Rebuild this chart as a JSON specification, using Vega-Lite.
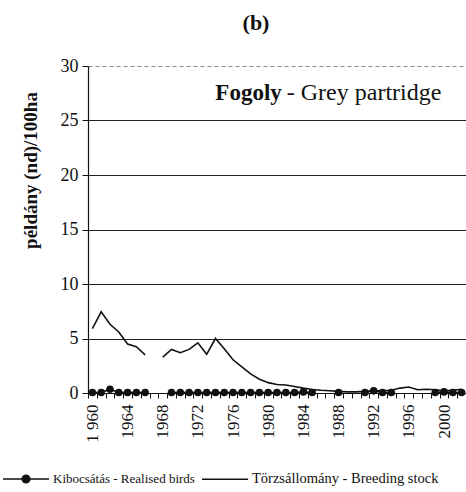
{
  "$schema": "https://vega.github.io/schema/vega-lite/v6.json",
  "autosize": {"type": "none"},
  "padding": {"left": 88, "top": 66, "right": 0, "bottom": 99},
  "width": 378,
  "height": 327,
  "background": "white",
  "title": {"text": "(b)", "font": "Liberation Serif, Times New Roman, serif", "fontSize": 22, "fontWeight": "bold", "color": "#111", "anchor": "middle", "dx": -21, "offset": 22},
  "config": {
    "view": {"stroke": null},
    "font": "Liberation Serif, Times New Roman, serif",
    "axis": {"labelFont": "Liberation Serif, Times New Roman, serif", "titleFont": "Liberation Serif, Times New Roman, serif", "labelColor": "#111", "domainColor": "#111", "tickColor": "#111"},
    "legend": {"labelFont": "Liberation Serif, Times New Roman, serif"}
  },
  "datasets": {
    "series": [
      {"year": 1960, "series": "Törzsállomány - Breeding stock", "value": 5.9},
      {"year": 1961, "series": "Törzsállomány - Breeding stock", "value": 7.45},
      {"year": 1962, "series": "Törzsállomány - Breeding stock", "value": 6.3},
      {"year": 1963, "series": "Törzsállomány - Breeding stock", "value": 5.6},
      {"year": 1964, "series": "Törzsállomány - Breeding stock", "value": 4.5},
      {"year": 1965, "series": "Törzsállomány - Breeding stock", "value": 4.25},
      {"year": 1966, "series": "Törzsállomány - Breeding stock", "value": 3.5},
      {"year": 1967, "series": "Törzsállomány - Breeding stock", "value": null},
      {"year": 1968, "series": "Törzsállomány - Breeding stock", "value": 3.3},
      {"year": 1969, "series": "Törzsállomány - Breeding stock", "value": 4.0},
      {"year": 1970, "series": "Törzsállomány - Breeding stock", "value": 3.7},
      {"year": 1971, "series": "Törzsállomány - Breeding stock", "value": 4.0},
      {"year": 1972, "series": "Törzsállomány - Breeding stock", "value": 4.6},
      {"year": 1973, "series": "Törzsállomány - Breeding stock", "value": 3.55},
      {"year": 1974, "series": "Törzsállomány - Breeding stock", "value": 5.0},
      {"year": 1975, "series": "Törzsállomány - Breeding stock", "value": 4.05},
      {"year": 1976, "series": "Törzsállomány - Breeding stock", "value": 3.05},
      {"year": 1977, "series": "Törzsállomány - Breeding stock", "value": 2.4},
      {"year": 1978, "series": "Törzsállomány - Breeding stock", "value": 1.75},
      {"year": 1979, "series": "Törzsállomány - Breeding stock", "value": 1.27},
      {"year": 1980, "series": "Törzsállomány - Breeding stock", "value": 0.95},
      {"year": 1981, "series": "Törzsállomány - Breeding stock", "value": 0.78},
      {"year": 1982, "series": "Törzsállomány - Breeding stock", "value": 0.73},
      {"year": 1983, "series": "Törzsállomány - Breeding stock", "value": 0.6},
      {"year": 1984, "series": "Törzsállomány - Breeding stock", "value": 0.45},
      {"year": 1985, "series": "Törzsállomány - Breeding stock", "value": 0.32},
      {"year": 1986, "series": "Törzsállomány - Breeding stock", "value": 0.25},
      {"year": 1987, "series": "Törzsállomány - Breeding stock", "value": 0.2},
      {"year": 1988, "series": "Törzsállomány - Breeding stock", "value": 0.15},
      {"year": 1989, "series": "Törzsállomány - Breeding stock", "value": 0.1},
      {"year": 1990, "series": "Törzsállomány - Breeding stock", "value": 0.1},
      {"year": 1991, "series": "Törzsállomány - Breeding stock", "value": 0.15},
      {"year": 1992, "series": "Törzsállomány - Breeding stock", "value": 0.2},
      {"year": 1993, "series": "Törzsállomány - Breeding stock", "value": 0.2},
      {"year": 1994, "series": "Törzsállomány - Breeding stock", "value": 0.25},
      {"year": 1995, "series": "Törzsállomány - Breeding stock", "value": 0.45},
      {"year": 1996, "series": "Törzsállomány - Breeding stock", "value": 0.55},
      {"year": 1997, "series": "Törzsállomány - Breeding stock", "value": 0.3},
      {"year": 1998, "series": "Törzsállomány - Breeding stock", "value": 0.35},
      {"year": 1999, "series": "Törzsállomány - Breeding stock", "value": 0.3},
      {"year": 2000, "series": "Törzsállomány - Breeding stock", "value": 0.2},
      {"year": 2001, "series": "Törzsállomány - Breeding stock", "value": 0.25},
      {"year": 2002, "series": "Törzsállomány - Breeding stock", "value": 0.35},
      {"year": 1960, "series": "Kibocsátás - Realised birds", "value": 0.05},
      {"year": 1961, "series": "Kibocsátás - Realised birds", "value": 0.05},
      {"year": 1962, "series": "Kibocsátás - Realised birds", "value": 0.35},
      {"year": 1963, "series": "Kibocsátás - Realised birds", "value": 0.05},
      {"year": 1964, "series": "Kibocsátás - Realised birds", "value": 0.05},
      {"year": 1965, "series": "Kibocsátás - Realised birds", "value": 0.05},
      {"year": 1966, "series": "Kibocsátás - Realised birds", "value": 0.05},
      {"year": 1967, "series": "Kibocsátás - Realised birds", "value": null},
      {"year": 1968, "series": "Kibocsátás - Realised birds", "value": null},
      {"year": 1969, "series": "Kibocsátás - Realised birds", "value": 0.05},
      {"year": 1970, "series": "Kibocsátás - Realised birds", "value": 0.05},
      {"year": 1971, "series": "Kibocsátás - Realised birds", "value": 0.05},
      {"year": 1972, "series": "Kibocsátás - Realised birds", "value": 0.05},
      {"year": 1973, "series": "Kibocsátás - Realised birds", "value": 0.05},
      {"year": 1974, "series": "Kibocsátás - Realised birds", "value": 0.05},
      {"year": 1975, "series": "Kibocsátás - Realised birds", "value": 0.05},
      {"year": 1976, "series": "Kibocsátás - Realised birds", "value": 0.05},
      {"year": 1977, "series": "Kibocsátás - Realised birds", "value": 0.05},
      {"year": 1978, "series": "Kibocsátás - Realised birds", "value": 0.05},
      {"year": 1979, "series": "Kibocsátás - Realised birds", "value": 0.05},
      {"year": 1980, "series": "Kibocsátás - Realised birds", "value": 0.05},
      {"year": 1981, "series": "Kibocsátás - Realised birds", "value": 0.05},
      {"year": 1982, "series": "Kibocsátás - Realised birds", "value": 0.05},
      {"year": 1983, "series": "Kibocsátás - Realised birds", "value": 0.05},
      {"year": 1984, "series": "Kibocsátás - Realised birds", "value": 0.1},
      {"year": 1985, "series": "Kibocsátás - Realised birds", "value": 0.05},
      {"year": 1986, "series": "Kibocsátás - Realised birds", "value": null},
      {"year": 1987, "series": "Kibocsátás - Realised birds", "value": null},
      {"year": 1988, "series": "Kibocsátás - Realised birds", "value": 0.05},
      {"year": 1989, "series": "Kibocsátás - Realised birds", "value": null},
      {"year": 1990, "series": "Kibocsátás - Realised birds", "value": null},
      {"year": 1991, "series": "Kibocsátás - Realised birds", "value": 0.05},
      {"year": 1992, "series": "Kibocsátás - Realised birds", "value": 0.2},
      {"year": 1993, "series": "Kibocsátás - Realised birds", "value": 0.05},
      {"year": 1994, "series": "Kibocsátás - Realised birds", "value": 0.05},
      {"year": 1995, "series": "Kibocsátás - Realised birds", "value": null},
      {"year": 1996, "series": "Kibocsátás - Realised birds", "value": null},
      {"year": 1997, "series": "Kibocsátás - Realised birds", "value": null},
      {"year": 1998, "series": "Kibocsátás - Realised birds", "value": null},
      {"year": 1999, "series": "Kibocsátás - Realised birds", "value": 0.05},
      {"year": 2000, "series": "Kibocsátás - Realised birds", "value": 0.1},
      {"year": 2001, "series": "Kibocsátás - Realised birds", "value": 0.05},
      {"year": 2002, "series": "Kibocsátás - Realised birds", "value": 0.05}
    ],
    "label1": [{"year": 1982, "value": 27.5, "text": "Fogoly"}],
    "label2": [{"year": 1982, "value": 27.5, "text": "- Grey partridge"}]
  },
  "encoding": {
    "x": {
      "field": "year", "type": "ordinal", "bandPosition": 0.5,
      "scale": {"type": "band", "paddingInner": 0, "paddingOuter": 0},
      "axis": {
        "title": null, "labelAngle": -90, "labelFontSize": 17, "labelOverlap": false,
        "labelExpr": "(datum.value - 1960) % 4 == 0 ? (datum.value == 1960 ? '1 960' : datum.label) : ''",
        "tickBand": "extent", "tickSize": 5, "labelPadding": 6, "domainWidth": 1.2, "grid": false
      }
    },
    "y": {
      "field": "value", "type": "quantitative",
      "scale": {"domain": [0, 30], "nice": false, "zero": true},
      "axis": {
        "values": [0, 5, 10, 15, 20, 25, 30], "title": "példány (nd)/100ha",
        "titleFontSize": 19, "titleFontWeight": "bold", "titleColor": "#111",
        "titleX": -58, "titleY": 104, "titleAngle": -90, "titleAlign": "center", "titleBaseline": "middle",
        "labelFontSize": 18, "labelPadding": 4, "tickSize": 6, "domainWidth": 1.2,
        "grid": true, "gridColor": {"condition": {"test": "datum.value == 30", "value": "#888"}, "value": "#222"},
        "gridDash": {"condition": {"test": "datum.value == 30", "value": [4, 3]}, "value": []},
        "gridWidth": 1.1
      }
    }
  },
  "layer": [
    {
      "data": {"name": "series"},
      "mark": {"type": "line", "strokeWidth": 1.6, "invalid": "break-paths-filter-domains"},
      "encoding": {
        "detail": {"field": "series"},
        "color": {
          "field": "series", "type": "nominal",
          "scale": {"domain": ["Kibocsátás - Realised birds", "Törzsállomány - Breeding stock"], "range": ["#111", "#111"]},
          "legend": {
            "title": null, "orient": "none", "legendX": -86, "legendY": 389, "direction": "horizontal",
            "labelFont": "Liberation Serif, Times New Roman, serif", "labelFontSize": 13, "labelColor": "#111",
            "symbolSize": 2116, "labelOffset": 3, "columnPadding": 4, "symbolStrokeWidth": 1.3, "labelLimit": 300,
            "encode": {
              "labels": {
                "update": {
                  "fontSize": {"signal": "datum.value === 'Kibocsátás - Realised birds' ? 13 : 14.5"}
                }
              },
              "symbols": {
                "update": {
                  "shape": {"signal": "datum.value === 'Kibocsátás - Realised birds' ? 'M-1,0H1M0.17,0A0.17,0.17,0,1,1,-0.17,0A0.17,0.17,0,1,1,0.17,0Z' : 'M-1,0H1'"},
                  "fill": {"value": "#111"},
                  "stroke": {"value": "#111"},
                  "strokeWidth": {"value": 1.3},
                  "opacity": {"value": 1}
                }
              }
            }
          }
        }
      }
    },
    {
      "data": {"name": "series"},
      "transform": [{"filter": "datum.series == 'Kibocsátás - Realised birds' && isValid(datum.value)"}],
      "mark": {"type": "point", "filled": true, "shape": "circle", "size": 58, "opacity": 1},
      "encoding": {
        "color": {"field": "series", "type": "nominal"}
      }
    },
    {
      "data": {"name": "label1"},
      "mark": {"type": "text", "align": "right", "baseline": "middle", "dx": -4, "font": "Liberation Serif, Times New Roman, serif", "fontSize": 23, "fontWeight": "bold", "color": "#111"},
      "encoding": {"text": {"field": "text"}}
    },
    {
      "data": {"name": "label2"},
      "mark": {"type": "text", "align": "left", "baseline": "middle", "dx": 1, "font": "Liberation Serif, Times New Roman, serif", "fontSize": 24, "color": "#111"},
      "encoding": {"text": {"field": "text"}}
    }
  ]
}
